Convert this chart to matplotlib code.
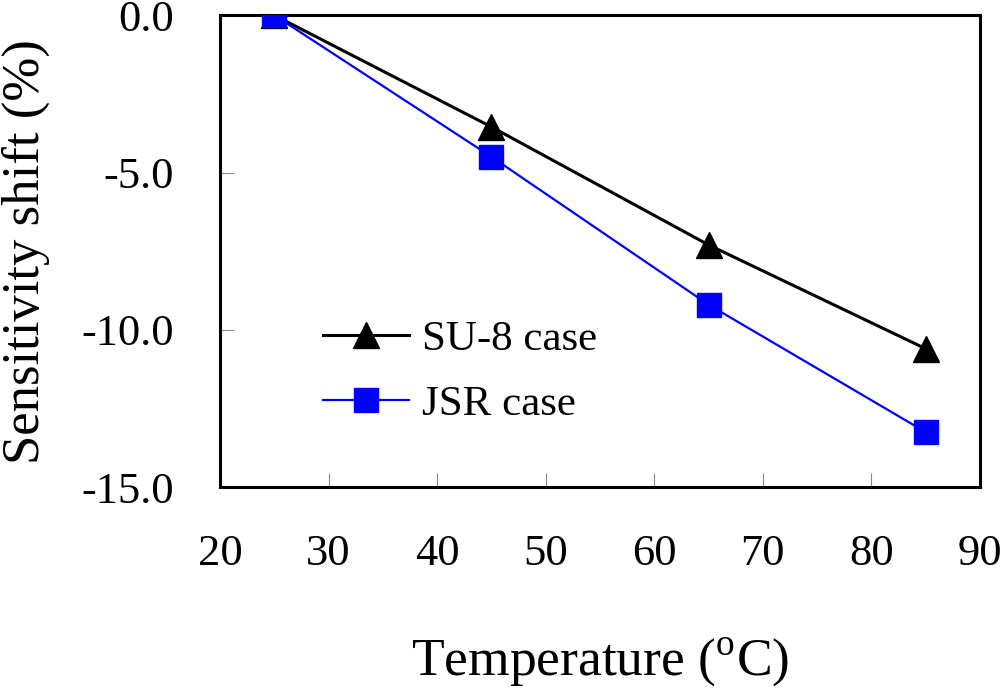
import matplotlib
matplotlib.use('Agg')
import matplotlib.pyplot as plt

plt.rcParams['font.family'] = ['Liberation Serif', 'DejaVu Serif']
plt.rcParams['mathtext.fontset'] = 'custom'
plt.rcParams['mathtext.rm'] = 'Liberation Serif'

# Data
temperature = [25, 45, 65, 85]
su8_shift = [0.0, -3.55, -7.3, -10.6]
jsr_shift = [0.0, -4.5, -9.2, -13.25]

x_ticks = [20, 30, 40, 50, 60, 70, 80, 90]
y_ticks = [0.0, -5.0, -10.0, -15.0]
y_tick_labels = ['0.0', '-5.0', '-10.0', '-15.0']

fig = plt.figure(figsize=(10, 6.92), dpi=100)
ax = fig.add_axes([0.22, 0.296, 0.76, 0.682])

ax.plot(temperature, su8_shift, color='black', lw=2.2, marker='^',
        markersize=19, label='SU-8 case', zorder=3)
ax.plot(temperature, jsr_shift, color='#0000ff', lw=1.6, marker='s',
        markersize=17, label='JSR case', zorder=4)

ax.set_xlim(20, 90)
ax.set_ylim(-15, 0)
ax.set_xticks(x_ticks)
ax.set_yticks(y_ticks)
ax.set_yticklabels(y_tick_labels)

for s in ax.spines.values():
    s.set_linewidth(2.2)
    s.set_color('black')

ax.tick_params(axis='both', direction='in', length=10, width=0.8,
               color='#888888', labelsize=32, labelcolor='black')
ax.tick_params(axis='x', pad=34)
ax.tick_params(axis='y', pad=33)

ax.set_xlabel(r'Temperature ($^{\mathrm{o}}$C)', fontsize=38.5, labelpad=44)
ax.set_ylabel('Sensitivity shift (%)', fontsize=38, labelpad=23)

ax.legend(loc='upper left', bbox_to_anchor=(0.113, 0.39), frameon=False,
          fontsize=31, handlelength=2.0, handletextpad=0.3,
          labelspacing=0.6, borderaxespad=0)

fig.savefig('out.png', dpi=100)
